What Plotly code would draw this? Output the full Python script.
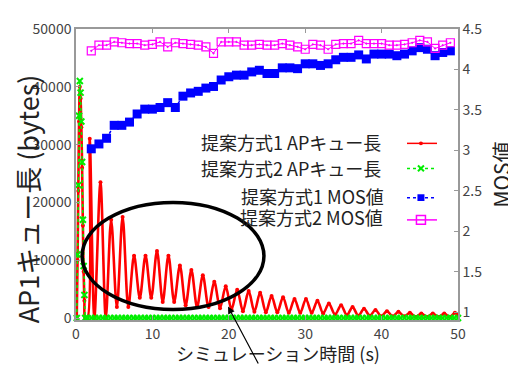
import plotly.graph_objects as go

# ---------------- data ----------------
# Proposed method 1: AP queue length (bytes) -- samples at peaks / troughs
RED_TIME = [0.1, 0.2, 0.3, 0.4, 0.5, 0.6, 0.7, 0.8, 0.9, 1.0, 1.1, 1.2, 1.5,
            1.8, 2.4, 3.2, 3.9, 4.6, 5.35, 6.1, 6.85, 7.6, 8.35, 9.1, 9.85,
            10.6, 11.35, 12.1, 12.85, 13.6, 14.35, 15.1, 15.85, 16.6, 17.35,
            18.1, 18.85, 19.6, 20.35, 21.1, 21.85, 22.6, 23.35, 24.1, 24.85,
            25.6, 26.35, 27.1, 27.85, 28.6, 29.35, 30.1, 30.85, 31.6, 32.35,
            33.1, 33.9, 34.7, 35.45, 36.2, 36.95, 37.7, 38.45, 39.2, 39.95,
            40.7, 41.45, 42.2, 42.95, 43.7, 44.45, 45.2, 45.95, 46.7, 47.45,
            48.2, 48.9, 49.6, 50.0]
RED_QUEUE = [0, 10000, 22000, 34000, 40000, 38000, 33000, 26000, 16000, 8000, 3000, 0, 0,
             31000, 0, 23500, 0, 17000, 1900, 17500, 1900, 10800, 3500, 10800, 3500,
             11600, 2800, 10800, 2800, 9100, 2200, 8300, 1900, 7400, 1900,
             6300, 1700, 5500, 1500, 4900, 1200, 4700, 1100, 4400, 1000,
             3800, 1000, 3600, 900, 3300, 900, 3300, 900, 3000, 800,
             2500, 600, 2200, 500, 1900, 400, 1600, 400, 1400, 300,
             1200, 300, 1100, 300, 900, 200, 800, 200, 800, 200,
             800, 200, 900, 500]

# Proposed method 2: AP queue length (bytes)
GREEN_SPIKE_TIME = [0.1, 0.2, 0.3, 0.4, 0.5, 0.6, 0.7, 0.8, 0.9, 1.0, 1.1, 1.2]
GREEN_SPIKE_QUEUE = [0, 11000, 23000, 35000, 41000, 39000, 34000, 27000, 17000, 9000, 4000, 0]
GREEN_TAIL_TIME = [1.5 + 0.5 * i for i in range(98)]
GREEN_TAIL_QUEUE = [0, 0, 0, 0, 0, 0, 0, 0, 0, 0, 0, 0, 0, 0,
                    0, 0, 0, 0, 0, 0, 0, 0, 0, 0, 0, 0, 0, 0,
                    0, 0, 0, 0, 0, 0, 0, 0, 0, 0, 0, 0, 0, 0,
                    0, 0, 0, 0, 0, 0, 0, 0, 0, 0, 0, 0, 0, 0,
                    0, 0, 0, 0, 0, 0, 0, 0, 0, 0, 0, 0, 0, 0,
                    0, 0, 0, 0, 0, 0, 0, 0, 0, 0, 0, 0, 0, 0,
                    0, 0, 0, 0, 0, 0, 0, 0, 0, 0, 0, 0, 0, 0]
GREEN_TIME = GREEN_SPIKE_TIME + GREEN_TAIL_TIME
GREEN_QUEUE = GREEN_SPIKE_QUEUE + GREEN_TAIL_QUEUE

# MOS values, sampled every second
MOS_TIME = list(range(2, 50))
MOS_1 = [3.02, 3.08, 3.15, 3.31, 3.31, 3.35, 3.45, 3.51, 3.51, 3.53,
         3.59, 3.53, 3.67, 3.71, 3.73, 3.77, 3.79, 3.87, 3.91, 3.93,
         3.93, 3.97, 3.99, 3.95, 3.95, 4.02, 4.02, 4.01, 4.07, 4.07,
         4.05, 4.07, 4.12, 4.15, 4.15, 4.18, 4.13, 4.19, 4.19, 4.19,
         4.17, 4.19, 4.23, 4.27, 4.25, 4.17, 4.21, 4.23]
MOS_2 = [4.23, 4.30, 4.30, 4.34, 4.33, 4.32, 4.32, 4.30, 4.31, 4.34,
         4.28, 4.33, 4.32, 4.31, 4.30, 4.28, 4.20, 4.34, 4.34, 4.34,
         4.30, 4.30, 4.31, 4.30, 4.30, 4.32, 4.30, 4.28, 4.25, 4.31,
         4.30, 4.25, 4.31, 4.32, 4.32, 4.36, 4.32, 4.32, 4.32, 4.30,
         4.30, 4.31, 4.33, 4.36, 4.34, 4.26, 4.30, 4.33]

NAMES = ["提案方式1 APキュー長", "提案方式2 APキュー長", "提案方式1 MOS値", "提案方式2 MOS値"]
X_TICKS = [0, 10, 20, 30, 40, 50]
Y_TICKS = [0, 10000, 20000, 30000, 40000, 50000]
Y_LABELS = ["0", "10000", "20000", "30000", "40000", "50000"]
Y2_TICKS = [1, 1.5, 2, 2.5, 3, 3.5, 4, 4.5]
Y2_LABELS = ["1", "1.5", "2", "2.5", "3", "3.5", "4", "4.5"]

FONT = "Noto Sans CJK JP, Noto Sans, sans-serif"
RED, GREEN, BLUE, MAGENTA = "#ff0000", "#00ee00", "#0000ff", "#ff00ff"

fig = go.Figure()
fig.add_trace(go.Scatter(x=RED_TIME, y=RED_QUEUE, name=NAMES[0], mode="lines+markers",
                         line=dict(color=RED, width=2.6, shape="spline", smoothing=0.9),
                         marker=dict(color=RED, size=4, symbol="circle")))
fig.add_trace(go.Scatter(x=GREEN_TIME, y=GREEN_QUEUE, name=NAMES[1], mode="lines+markers",
                         line=dict(color=GREEN, width=1.5, dash="dot"), cliponaxis=False,
                         marker=dict(color=GREEN, size=6, symbol="x-thin",
                                     line=dict(color=GREEN, width=2))))
fig.add_trace(go.Scatter(x=MOS_TIME, y=MOS_1, name=NAMES[2], mode="lines+markers", yaxis="y2",
                         line=dict(color=BLUE, width=1.5, dash="dot"),
                         marker=dict(color=BLUE, size=9, symbol="square")))
fig.add_trace(go.Scatter(x=MOS_TIME, y=MOS_2, name=NAMES[3], mode="lines+markers", yaxis="y2",
                         line=dict(color=MAGENTA, width=1),
                         marker=dict(color=MAGENTA, size=8, symbol="square-open-dot",
                                     line=dict(color=MAGENTA, width=1.2))))

axis_common = dict(showgrid=False, zeroline=False, showline=True, linecolor="#999999",
                   linewidth=1.5, ticks="inside", ticklen=4, tickcolor="#999999",
                   tickfont=dict(family=FONT, size=14, color="#444444"))

# page body has an 8px margin, so the figure is 8px smaller and margins are shifted
fig.update_layout(
    width=508, height=357,
    margin=dict(l=68, r=58, t=10, b=45),
    paper_bgcolor="white", plot_bgcolor="white",
    showlegend=False,
    font=dict(family=FONT, color="#222222"),
    xaxis=dict(range=[0, 50], tickvals=X_TICKS, mirror="ticks", **axis_common),
    yaxis=dict(range=[-333, 50000], tickvals=Y_TICKS, ticktext=Y_LABELS, **axis_common),
    yaxis2=dict(range=[0.905, 4.5], tickvals=Y2_TICKS, ticktext=Y2_LABELS,
                overlaying="y", side="right", **axis_common),
)

# axis titles
fig.add_annotation(text="シミュレーション時間 (s)", xref="paper", yref="paper", x=0.529, y=-0.113,
                   xanchor="center", yanchor="middle",
                   showarrow=False, font=dict(size=18, color="#222222"))
fig.add_annotation(text="AP1キュー長 (bytes)", xref="paper", yref="paper", x=-0.128, y=0.415,
                   xanchor="center", yanchor="middle",
                   textangle=-90, showarrow=False, font=dict(size=27, color="#222222"))
fig.add_annotation(text="MOS値", xref="paper", yref="paper", x=1.11, y=0.50,
                   xanchor="center", yanchor="middle",
                   textangle=-90, showarrow=False, font=dict(size=21, color="#222222"))

# custom legend (text right-aligned, key to the right)
legend_text_y = [0.613, 0.524, 0.425, 0.353]
legend_text_x = [0.804, 0.804, 0.812, 0.810]
legend_key_y = [0.607, 0.521, 0.4205, 0.344]
for name, tx, ty in zip(NAMES, legend_text_x, legend_text_y):
    fig.add_annotation(text=name, xref="paper", yref="paper", x=tx, y=ty, xanchor="right",
                       yanchor="middle", showarrow=False, font=dict(size=18, color="#222222"))
key_styles = [(RED, "solid"), (GREEN, "dot"), (BLUE, "dot"), (MAGENTA, "solid")]
for (col, dash), ky in zip(key_styles, legend_key_y):
    fig.add_shape(type="line", xref="paper", yref="paper", x0=0.8665, x1=0.945, y0=ky, y1=ky,
                  line=dict(color=col, width=1.5, dash=dash))
cx = 0.903
dx, dy = 1 / 382, 1 / 302
fig.add_shape(type="circle", xref="paper", yref="paper", x0=cx - 2 * dx, x1=cx + 2 * dx,
              y0=legend_key_y[0] - 2 * dy, y1=legend_key_y[0] + 2 * dy,
              fillcolor=RED, line=dict(color=RED, width=0))
fig.add_shape(type="line", xref="paper", yref="paper", x0=cx - 3 * dx, x1=cx + 3 * dx,
              y0=legend_key_y[1] - 3 * dy, y1=legend_key_y[1] + 3 * dy, line=dict(color=GREEN, width=2))
fig.add_shape(type="line", xref="paper", yref="paper", x0=cx - 3 * dx, x1=cx + 3 * dx,
              y0=legend_key_y[1] + 3 * dy, y1=legend_key_y[1] - 3 * dy, line=dict(color=GREEN, width=2))
fig.add_shape(type="rect", xref="paper", yref="paper", x0=cx - 3.5 * dx, x1=cx + 3.5 * dx,
              y0=legend_key_y[2] - 3.5 * dy, y1=legend_key_y[2] + 3.5 * dy,
              fillcolor=BLUE, line=dict(color=BLUE, width=0))
fig.add_shape(type="rect", xref="paper", yref="paper", x0=cx - 4.5 * dx, x1=cx + 4.5 * dx,
              y0=legend_key_y[3] - 4.5 * dy, y1=legend_key_y[3] + 4.5 * dy,
              fillcolor="rgba(0,0,0,0)", line=dict(color=MAGENTA, width=1.5))

# highlight ellipse and arrow
fig.add_shape(type="circle", xref="x", yref="y", x0=0.8, x1=24.6, y0=1500, y1=20000,
              line=dict(color="black", width=3.5))
fig.add_annotation(x=19.9, y=2000, xref="x", yref="y", ax=31, ay=61, text="",
                   showarrow=True, arrowhead=2, arrowsize=1.2, arrowwidth=1.2, arrowcolor="black")

fig.write_html("out.html")
